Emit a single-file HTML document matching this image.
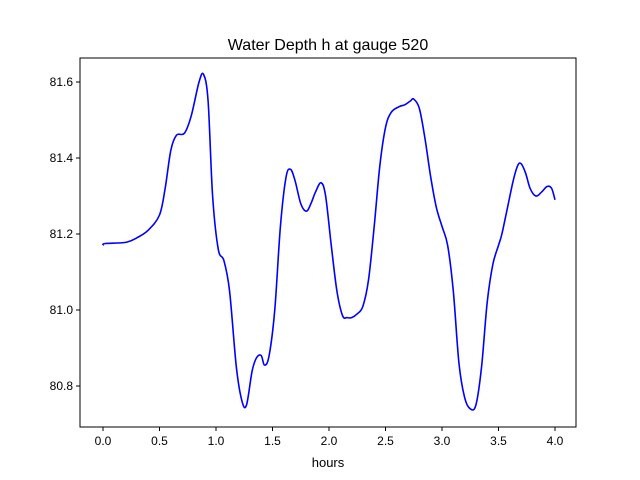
<!DOCTYPE html>
<html><head><meta charset="utf-8"><style>
body{margin:0;background:#fff;}
svg{display:block;font-family:"Liberation Sans","DejaVu Sans",sans-serif;}
</style></head><body>
<svg id="chart" width="640" height="480" xmlns="http://www.w3.org/2000/svg">
<rect x="0" y="0" width="640" height="480" fill="#fff"/>
<text x="328" y="50" font-size="16" text-anchor="middle">Water Depth h at gauge 520</text>
<g id="plot"></g>
<rect x="80" y="58" width="496" height="369" fill="none" stroke="#000" stroke-width="1"/>
<text x="328" y="467" font-size="13" text-anchor="middle">hours</text>
</svg>
<script>
const xTicks=[0,0.5,1,1.5,2,2.5,3,3.5,4];
const xTickLabels=["0.0","0.5","1.0","1.5","2.0","2.5","3.0","3.5","4.0"];
const yTicks=[80.8,81.0,81.2,81.4,81.6];
const yTickLabels=["80.8","81.0","81.2","81.4","81.6"];
const hours=[0,0.02,0.2,0.3,0.4,0.5,0.55,0.6,0.65,0.72,0.78,0.85,0.89,0.93,0.97,1.02,1.07,1.12,1.18,1.23,1.27,1.32,1.36,1.4,1.43,1.47,1.52,1.57,1.62,1.66,1.7,1.75,1.8,1.84,1.88,1.93,1.97,2.02,2.07,2.12,2.16,2.2,2.25,2.3,2.35,2.4,2.45,2.5,2.55,2.62,2.67,2.72,2.75,2.8,2.85,2.9,2.95,3.0,3.05,3.1,3.15,3.2,3.25,3.3,3.35,3.4,3.45,3.5,3.53,3.58,3.63,3.67,3.7,3.74,3.78,3.83,3.88,3.93,3.97,4.0];
const depth=[81.17,81.175,81.178,81.19,81.21,81.25,81.32,81.42,81.46,81.465,81.51,81.60,81.62,81.55,81.30,81.16,81.13,81.05,80.85,80.76,80.75,80.84,80.875,80.88,80.855,80.88,81.0,81.22,81.35,81.37,81.34,81.28,81.26,81.28,81.31,81.335,81.30,81.17,81.05,80.985,80.98,80.98,80.99,81.01,81.08,81.22,81.38,81.48,81.52,81.535,81.54,81.55,81.555,81.53,81.45,81.35,81.27,81.22,81.17,81.05,80.86,80.77,80.74,80.75,80.85,81.02,81.12,81.17,81.2,81.27,81.34,81.38,81.385,81.36,81.32,81.30,81.31,81.325,81.32,81.29];
const NS="http://www.w3.org/2000/svg";
const g=document.getElementById('plot');
const sx=v=>103+v*113;
const sy=v=>310-(v-81.0)*380;
function mk(t,a){const e=document.createElementNS(NS,t);for(const k in a)e.setAttribute(k,a[k]);g.appendChild(e);return e;}
xTicks.forEach((t,i)=>{
  const l=mk('line',{x1:sx(t),x2:sx(t),y1:427,y2:431,stroke:'#000'});
  
  
  const tx=mk('text',{x:sx(t),y:445,'font-size':12,'text-anchor':'middle'});
  tx.textContent=xTickLabels[i];
  
  
});
yTicks.forEach((t,i)=>{
  const l=mk('line',{x1:76,x2:80,y1:sy(t),y2:sy(t),stroke:'#000'});
  
  
  const tx=mk('text',{x:73,y:sy(t)+4,'font-size':12,'text-anchor':'end'});
  tx.textContent=yTickLabels[i];
  
  
});
const P=hours.map((h,i)=>[sx(h),sy(depth[i])]);
let d='M'+P[0][0]+','+P[0][1];
for(let i=0;i<P.length-1;i++){
  const p0=P[Math.max(i-1,0)],p1=P[i],p2=P[i+1],p3=P[Math.min(i+2,P.length-1)];
  const c1=[p1[0]+(p2[0]-p0[0])/6,p1[1]+(p2[1]-p0[1])/6];
  const c2=[p2[0]-(p3[0]-p1[0])/6,p2[1]-(p3[1]-p1[1])/6];
  d+=' C'+c1[0]+','+c1[1]+' '+c2[0]+','+c2[1]+' '+p2[0]+','+p2[1];
}
const line=mk('path',{d:d,fill:'none',stroke:'#0000ff','stroke-width':1.6});


</script>
</body></html>
